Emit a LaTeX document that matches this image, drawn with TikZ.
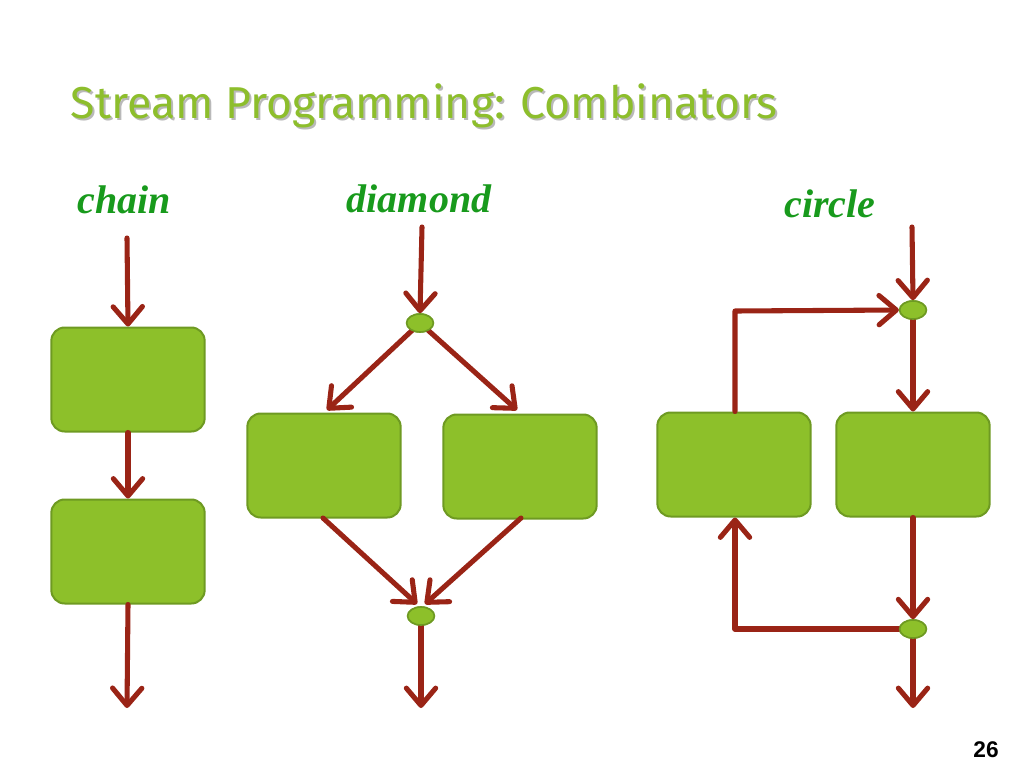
\documentclass[tikz,border=0pt]{standalone}
\usepackage{fontspec}
\setmainfont{Liberation Serif}
\newfontfamily\titlefont{Fira Sans}
\newfontfamily\numfont{Liberation Sans}
\usetikzlibrary{arrows.meta,shapes.geometric}
\definecolor{boxgreen}{HTML}{8DC02A}
\definecolor{boxedge}{HTML}{6E9A22}
\definecolor{arrred}{HTML}{9A2416}
\definecolor{lblgreen}{HTML}{189A1C}
\definecolor{titlegreen}{HTML}{8DBE2C}
\tikzset{
  proc/.style={draw=boxedge, fill=boxgreen, line width=1.5pt, rounded corners=10pt, minimum width=115pt, minimum height=78pt, inner sep=0pt},
  joint/.style={draw=boxedge, fill=boxgreen, line width=1.2pt, ellipse, minimum width=20pt, minimum height=13.5pt, inner sep=0pt},
  flow/.style={draw=arrred, line width=3.8pt, line cap=round, line join=round},
  tip/.style={-{Straight Barb[length=13pt,width=22pt,line cap=round,line join=round]}},
  lbl/.style={text=lblgreen, font=\fontsize{30}{34}\selectfont\bfseries\itshape},
  ttl/.style={anchor=base west, font=\titlefont\fontsize{33.5}{38}\selectfont}
}
\begin{document}
\begin{tikzpicture}[x=0.75pt,y=-0.75pt]
\useasboundingbox (0,0) rectangle (1024,768);
% title
\node[ttl, text=gray!55] (titleshadow) at (68,120) {Stream Programming: Combinators};
\node[ttl, text=titlegreen] (title) at (66,118) {Stream Programming: Combinators};
% labels
\node[lbl] (lchain) at (124,200) {chain};
\node[lbl] (ldiamond) at (419,199) {diamond};
\node[lbl] (lcircle) at (830,204) {circle};
% chain
\node[proc] (c1) at (128,379.5) {};
\node[proc] (c2) at (128,551.5) {};
\coordinate (cin) at (127,238);
\coordinate (cout) at (127,708);
\draw[flow,tip] (cin) -- (c1.north);
\draw[flow,tip] (c1.south) -- (c2.north);
\draw[flow,tip] (c2.south) -- (cout);
% diamond
\node[proc] (d1) at (324,465.5) {};
\node[proc] (d2) at (520,466.5) {};
\node[joint] (dj1) at (420,323) {};
\node[joint] (dj2) at (421,616) {};
\coordinate (din) at (422,227);
\coordinate (dout) at (421,708);
\coordinate (dl) at (327,410);
\coordinate (dr) at (517,410);
\coordinate (dbl) at (323,518);
\coordinate (dbr) at (521,518);
\coordinate (dml) at (417,604);
\coordinate (dmr) at (425,604);
\draw[flow,tip] (din) -- (dj1.north);
\draw[flow,tip] (dj1.center) -- (dl);
\draw[flow,tip] (dj1.center) -- (dr);
\draw[flow,tip] (dbl) -- (dml);
\draw[flow,tip] (dbr) -- (dmr);
\draw[flow,tip] (dj2.south) -- (dout);
\node[joint] (dj1top) at (420,323) {};
\node[joint] (dj2top) at (421,616) {};
% circle
\node[proc] (e1) at (734,464.5) {};
\node[proc] (e2) at (913,464.5) {};
\node[joint] (ej1) at (913,310) {};
\node[joint] (ej2) at (913,629) {};
\coordinate (ein) at (912,227);
\coordinate (eout) at (913,708);
\coordinate (ebl) at (735,629);
\coordinate (etl) at (735,311);
\draw[flow,tip] (ein) -- (ej1.north);
\draw[flow,tip] (ej1.south) -- (e2.north);
\draw[flow,tip] (e2.south) -- (ej2.north);
\draw[flow,tip] (ej2.south) -- (eout);
\draw[flow,tip] (ej2.west) -- (ebl) -- (e1.south -| ebl);
\draw[flow,tip] (e1.north -| etl) -- (etl) -- (ej1.west);
\node[joint] (ej1top) at (913,310) {};
\node[joint] (ej2top) at (913,629) {};
% page number
\node[font=\numfont\bfseries\fontsize{17}{20}\selectfont] (pg) at (986,750) {26};
\end{tikzpicture}
\end{document}
